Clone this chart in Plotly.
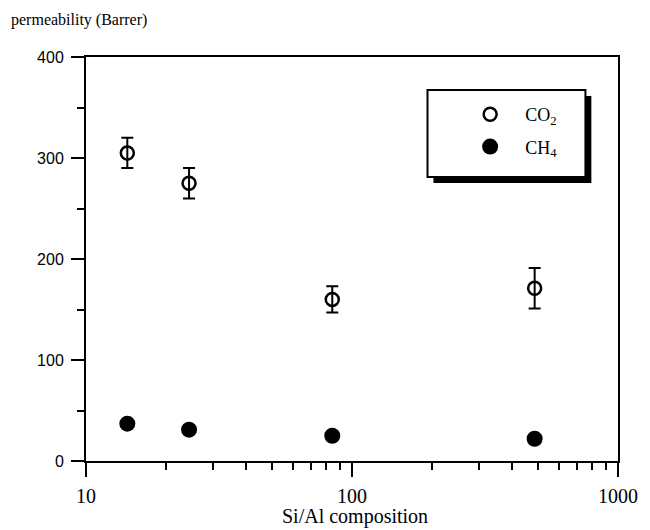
import plotly.graph_objects as go

# Data
si_al = [14.3, 24.4, 84.3, 486]
co2 = [305, 275, 160, 171]
co2_err = [15, 15, 13, 20]
ch4 = [37, 31, 25, 22]

x_major = [10, 100, 1000]
x_major_text = ["10", "100", "1000"]
x_minor = [20, 30, 40, 50, 60, 70, 80, 90, 200, 300, 400, 500, 600, 700, 800, 900]
y_major = [0, 100, 200, 300, 400]
y_minor = [50, 150, 250, 350]

W, H = 650, 530
L, R, T, B = 86, 25, 57, 69
pw, ph = W - L - R, H - T - B

def px(xp):
    return (xp - L) / pw

def py(yp):
    return (H - B - yp) / ph

fig = go.Figure()
fig.add_trace(go.Scatter(
    x=si_al, y=co2, mode="markers", name="CO<sub>2</sub>",
    marker=dict(symbol="circle-open", size=13, color="black", line=dict(width=2.5)),
    error_y=dict(type="data", array=co2_err, visible=True, color="black", thickness=2, width=6),
    legendgroup="a",
))
fig.add_trace(go.Scatter(
    x=si_al, y=ch4, mode="markers", name="CH<sub>4</sub>",
    marker=dict(symbol="circle", size=16, color="black"),
    legendgroup="b",
))

serif = "Liberation Serif"
sans = "Liberation Sans"

# legend box with shadow
fig.add_shape(type="rect", xref="paper", yref="paper",
              x0=px(438), x1=px(598), y0=py(183), y1=py(96),
              fillcolor="black", line=dict(color="black", width=0), layer="above")
fig.add_shape(type="rect", xref="paper", yref="paper",
              x0=px(432), x1=px(592), y0=py(177), y1=py(90),
              fillcolor="white", line=dict(color="black", width=2), layer="above")

fig.update_layout(
    width=W, height=H,
    margin=dict(l=L, r=R, t=T, b=B),
    paper_bgcolor="white", plot_bgcolor="white",
    showlegend=True,
    legend=dict(x=px(460), y=py(96), xanchor="left", yanchor="top",
                bgcolor="rgba(0,0,0,0)", borderwidth=0,
                font=dict(family=serif, size=18, color="black"),
                tracegroupgap=6, itemwidth=60),
    xaxis=dict(type="log", range=[1, 3], showgrid=False, zeroline=False,
               showline=True, linecolor="black", linewidth=2, mirror=True,
               ticks="outside", ticklen=14, tickwidth=2, tickcolor="black",
               tickmode="array", tickvals=x_major, ticktext=x_major_text,
               ticklabelstandoff=2,
               tickfont=dict(family=serif, size=20, color="black"),
               minor=dict(ticks="outside", ticklen=7, tickwidth=2, tickcolor="black",
                          tickmode="array", tickvals=x_minor, showgrid=False)),
    yaxis=dict(range=[0, 400], showgrid=False, zeroline=False,
               showline=True, linecolor="black", linewidth=2, mirror=True,
               ticks="outside", ticklen=13, tickwidth=2, tickcolor="black",
               tickmode="array", tickvals=y_major,
               ticklabelstandoff=4,
               tickfont=dict(family=sans, size=16, color="black"),
               minor=dict(ticks="outside", ticklen=7, tickwidth=2, tickcolor="black",
                          tickmode="array", tickvals=y_minor, showgrid=False)),
    annotations=[
        dict(text="permeability (Barrer)", xref="paper", yref="paper",
             x=px(8), y=py(20), xanchor="left", yanchor="middle", showarrow=False,
             font=dict(family=serif, size=16, color="black")),
        dict(text="Si/Al composition", xref="paper", yref="paper",
             x=px(359), y=py(516), xanchor="center", yanchor="middle", showarrow=False,
             font=dict(family=serif, size=20, color="black")),
    ],
)

fig.write_html("out.html")
